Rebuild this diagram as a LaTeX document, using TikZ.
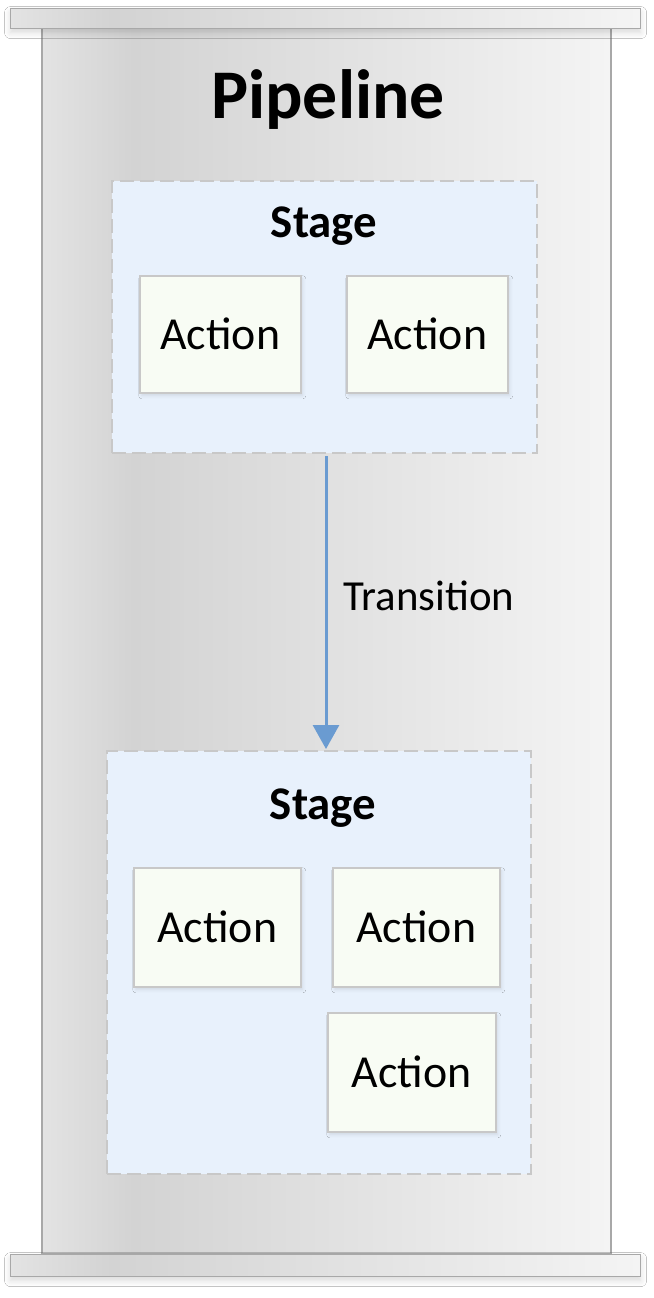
\documentclass[tikz,border=0pt]{standalone}
\usepackage{fontspec}
\setmainfont{Carlito}
\usetikzlibrary{arrows.meta,shadows.blur}
\definecolor{gA}{HTML}{E3E3E3}
\definecolor{gB}{HTML}{D3D3D3}
\definecolor{gC}{HTML}{F4F4F4}
\definecolor{capline}{HTML}{A8A8A8}
\definecolor{stagefill}{HTML}{E8F1FC}
\definecolor{stageline}{HTML}{C8C8C8}
\definecolor{actfill}{HTML}{F8FCF4}
\definecolor{actline}{HTML}{C8C8C8}
\definecolor{arrowblue}{HTML}{6A9BD1}
\pgfdeclarehorizontalshading{metal}{100bp}{color(0bp)=(gA); color(25bp)=(gA); color(33bp)=(gB); color(75bp)=(gC); color(100bp)=(gC)}
\tikzset{
  capbar/.style={draw=capline, line width=1.2bp, shading=metal, blur shadow={shadow blur steps=6, shadow xshift=0bp, shadow yshift=-4bp, shadow opacity=15, shadow blur radius=6bp}},
  stagebox/.style={draw=stageline, fill=stagefill, line width=2.2bp, dash pattern=on 14bp off 6bp, inner sep=0pt},
  actbox/.style={draw=actline, fill=actfill, line width=1.5bp, inner sep=0pt, font=\fontsize{46}{50}\selectfont, blur shadow={shadow blur steps=4, shadow xshift=2bp, shadow yshift=-3bp, shadow opacity=10, shadow blur radius=3bp}},
}
\begin{document}
\begin{tikzpicture}[x=1bp,y=-1bp]
\useasboundingbox[fill=white] (0,0) rectangle (654,1298);
% body
\path[shading=metal, draw=capline, line width=1.2bp] (42,28) rectangle (611,1254);
% caps
\node[capbar, minimum width=630bp, minimum height=20bp, inner sep=0pt, anchor=north west] (topcap) at (10,8) {};
\node[capbar, minimum width=630bp, minimum height=22bp, inner sep=0pt, anchor=north west] (botcap) at (10,1254) {};
% title
\node[font=\bfseries\fontsize{70}{74}\selectfont] (title) at (328,100) {Pipeline};
% stage 1
\node[stagebox, minimum width=425bp, minimum height=272bp, anchor=north west] (s1) at (111,180) {};
\node[font=\bfseries\fontsize{47}{50}\selectfont] (s1t) at (324,226) {Stage};
\node[actbox, minimum width=161bp, minimum height=117bp, anchor=north west] (a1) at (139,275) {Action};
\node[actbox, minimum width=161bp, minimum height=117bp, anchor=north west] (a2) at (346,275) {Action};
% stage 2
\node[stagebox, minimum width=424bp, minimum height=423bp, anchor=north west] (s2) at (106,750) {};
\node[font=\bfseries\fontsize{47}{50}\selectfont] (s2t) at (323,808) {Stage};
\node[actbox, minimum width=167bp, minimum height=119bp, anchor=north west] (a3) at (133,867) {Action};
\node[actbox, minimum width=167bp, minimum height=119bp, anchor=north west] (a4) at (332,867) {Action};
\node[actbox, minimum width=168bp, minimum height=119bp, anchor=north west] (a5) at (327,1012) {Action};
% transition
\draw[arrowblue, line width=3bp, -{Triangle[length=24bp, width=26bp]}, shorten <=2bp, shorten >=1bp] (s1.south -| 326,0) -- (s2.north -| 326,0);
\node[anchor=west, font=\fontsize{43}{46}\selectfont] (tl) at (340,596) {Transition};
\end{tikzpicture}
\end{document}
